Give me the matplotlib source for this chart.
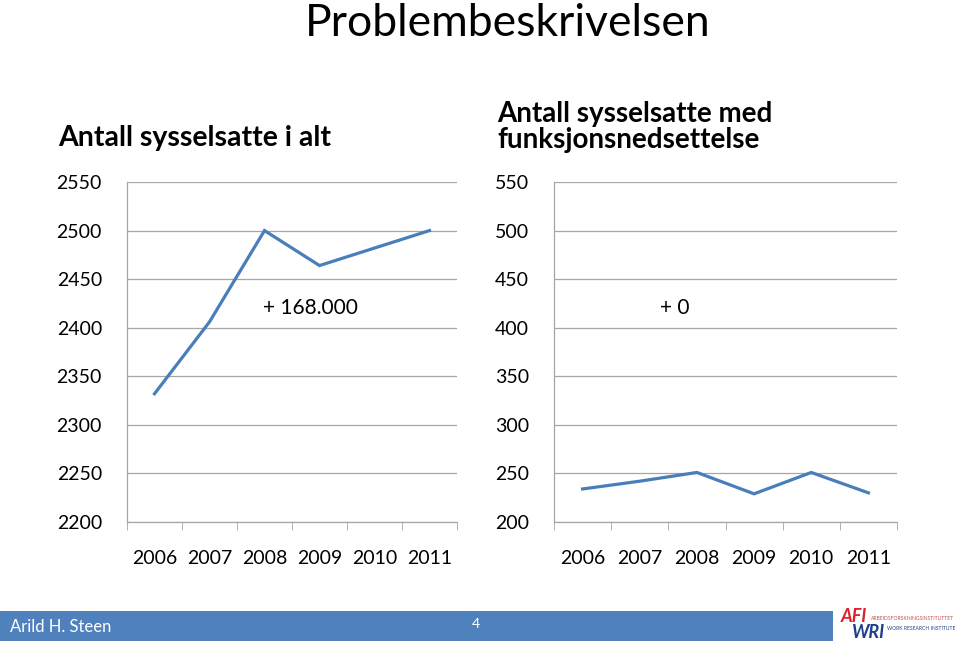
"""Slide: Problembeskrivelsen -- two small Excel-style line charts."""
import matplotlib.pyplot as plt
from matplotlib.patches import Rectangle

plt.rcParams["font.family"] = ["Lato", "DejaVu Sans"]

years = ["2006", "2007", "2008", "2009", "2010", "2011"]
total = [2332, 2406, 2500, 2464, 2482, 2500]       # thousands, all employed
disabled = [234, 242, 251, 229, 251, 230]           # thousands, with disability
total_ticks = [2200, 2250, 2300, 2350, 2400, 2450, 2500, 2550]
disabled_ticks = [200, 250, 300, 350, 400, 450, 500, 550]

LINE = "#4A7EBB"
GRID = "#A6A6A6"
W, H = 959, 645

fig = plt.figure(figsize=(W / 100, H / 100), dpi=100)


def px(x0, x1, y_top, y_bot):
    return [x0 / W, 1 - y_bot / H, (x1 - x0) / W, (y_bot - y_top) / H]


def chart(rect, values, yticks):
    ax = fig.add_axes(rect)
    xs = range(len(years))
    ax.plot(xs, values, color=LINE, linewidth=2.3, solid_joinstyle="miter")
    ax.set_xlim(-0.5, len(years) - 0.5)
    ax.set_ylim(yticks[0], yticks[-1])
    ax.set_yticks(yticks)
    ax.set_xticks(list(xs))
    ax.set_xticklabels(years)
    ax.set_xticks([i - 0.5 for i in range(len(years) + 1)], minor=True)
    ax.tick_params(axis="x", which="major", length=0, pad=20, labelsize=14)
    ax.tick_params(axis="x", which="minor", length=6, color=GRID, direction="out")
    ax.tick_params(axis="y", length=0, pad=18, labelsize=14)
    ax.grid(axis="y", color=GRID, linewidth=0.9)
    for s in ("top", "right"):
        ax.spines[s].set_visible(False)
    for s in ("left", "bottom"):
        ax.spines[s].set_color(GRID)
        ax.spines[s].set_linewidth(0.9)
    ax.set_axisbelow(True)
    return ax


ax1 = chart(px(127, 457, 182, 522), total, total_ticks)
ax2 = chart(px(554, 897, 182, 522), disabled, disabled_ticks)

ax1.text(0.555, 0.63, "+ 168.000", transform=ax1.transAxes, fontsize=15, ha="center", va="center")
ax2.text(0.353, 0.63, "+ 0", transform=ax2.transAxes, fontsize=15, ha="center", va="center")

fig.text(508 / W, 1 - 23 / H, "Problembeskrivelsen", fontsize=32, ha="center", va="center")
fig.text(58 / W, 1 - 138 / H, "Antall sysselsatte i alt", fontsize=20.5, fontweight="bold",
         ha="left", va="center")
fig.text(497 / W, 1 - 127 / H, "Antall sysselsatte med\nfunksjonsnedsettelse", fontsize=20,
         fontweight="bold", ha="left", va="center", linespacing=0.97)

# footer bar
fig.patches.append(Rectangle((0, 1 - 641 / H), 833 / W, 30 / H, transform=fig.transFigure,
                             facecolor="#4F81BD", edgecolor="none"))
fig.text(10 / W, 1 - 627 / H, "Arild H. Steen", color="white", fontsize=12, ha="left", va="center")
fig.text(476 / W, 1 - 624 / H, "4", color="white", fontsize=10, ha="center", va="center")

# logo
fig.text(841 / W, 1 - 617 / H, "AFI", color="#E0202A", fontsize=13, fontweight="bold",
         style="italic", ha="left", va="center")
fig.text(852 / W, 1 - 632 / H, "WRI", color="#1F3E8C", fontsize=13, fontweight="bold",
         style="italic", ha="left", va="center")
fig.text(871 / W, 1 - 619 / H, "ARBEIDSFORSKNINGSINSTITUTTET", color="#C0504D", fontsize=3.6,
         ha="left", va="center")
fig.text(887 / W, 1 - 629 / H, "WORK RESEARCH INSTITUTE", color="#1F3E8C", fontsize=3.6,
         ha="left", va="center")

fig.savefig("out.png", dpi=100)
